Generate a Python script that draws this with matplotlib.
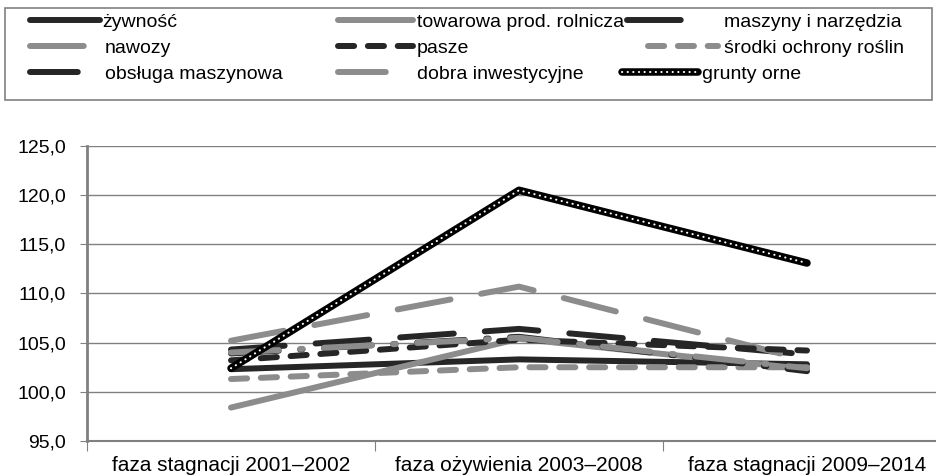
import matplotlib
matplotlib.use("Agg")
import matplotlib.pyplot as plt
from matplotlib.ticker import FuncFormatter, FixedLocator
from matplotlib.legend_handler import HandlerTuple
from matplotlib.patches import Rectangle

plt.rcParams['font.family'] = ['Liberation Sans', 'DejaVu Sans']

# dane
fazy = ['faza stagnacji 2001–2002', 'faza ożywienia 2003–2008', 'faza stagnacji 2009–2014']
zywnosc = [102.3, 103.3, 102.8]
towarowa = [98.4, 105.4, 102.3]
maszyny = [104.3, 106.4, 103.8]
nawozy = [105.2, 110.7, 103.2]
pasze = [103.2, 105.3, 104.2]
srodki = [101.3, 102.5, 102.5]
obsluga = [103.9, 105.6, 102.1]
dobra = [104.0, 105.5, 102.4]
grunty = [102.4, 120.5, 113.1]

ciemny = '#262626'
szary = '#8c8c8c'
lw = 4.3
dlugie = (9, 5.2)
krotkie = (2.7, 2.3)
kreska_kropka = (8, 3.6, 0.4, 3.6)

fig = plt.figure(figsize=(9.37, 4.76), dpi=100)
ax = fig.add_axes([87 / 937, 35 / 476, 864 / 937, 295 / 476])

x = range(len(fazy))
kw = dict(lw=lw, solid_capstyle='round', dash_capstyle='round')

h = {}
h['żywność'], = ax.plot(x, zywnosc, color=ciemny, **kw)
h['towarowa prod. rolnicza'], = ax.plot(x, towarowa, color=szary, **kw)
h['maszyny i narzędzia'], = ax.plot(x, maszyny, color=ciemny, dashes=dlugie, **kw)
h['nawozy'], = ax.plot(x, nawozy, color=szary, dashes=dlugie, **kw)
h['pasze'], = ax.plot(x, pasze, color=ciemny, dashes=krotkie, **kw)
h['środki ochrony roślin'], = ax.plot(x, srodki, color=szary, dashes=krotkie, **kw)
h['obsługa maszynowa'], = ax.plot(x, obsluga, color=ciemny, dashes=kreska_kropka, **kw)
h['dobra inwestycyjne'], = ax.plot(x, dobra, color=szary, dashes=kreska_kropka, **kw)
g1, = ax.plot(x, grunty, color='black', lw=5.4, solid_capstyle='round', zorder=5)
g2, = ax.plot(x, grunty, color='white', lw=1.5, dashes=(0.1, 2.6), dash_capstyle='round', zorder=6)
h['grunty orne'] = (g1, g2)

ax.set_xlim(-0.5, 2.5)
ax.set_ylim(95, 125)
ax.set_yticks([95, 100, 105, 110, 115, 120, 125])
ax.yaxis.set_major_formatter(FuncFormatter(lambda v, p: f'{v:.1f}'.replace('.', ',')))
ax.grid(axis='y', color='#808080', lw=1)
ax.set_axisbelow(True)

ax.xaxis.set_major_locator(FixedLocator([-0.5, 0.5, 1.5]))
ax.set_xticklabels([])
ax.set_xticks(list(x), minor=True)
ax.set_xticklabels(fazy, minor=True, fontsize=15)
ax.tick_params(axis='x', which='minor', length=0, pad=11)
ax.tick_params(axis='x', which='major', length=7, color='#808080')
ax.tick_params(axis='y', length=5, color='#808080', labelsize=14, pad=10)

for s in ['top', 'right']:
    ax.spines[s].set_visible(False)
ax.spines['left'].set_color('#808080')
ax.spines['left'].set_linewidth(2)
ax.spines['bottom'].set_color('#808080')
ax.spines['bottom'].set_linewidth(1.5)

# legenda: kazdy wpis osobno (poczatek symbolu, dlugosc symbolu, poczatek tekstu, wiersz) w pikselach
fs = 14
em = fs * 100 / 72
uklad = {
    'żywność': (30, 70, 102, 22),
    'towarowa prod. rolnicza': (338, 75, 417, 22),
    'maszyny i narzędzia': (627, 66, 724, 22),
    'nawozy': (30, 62, 105, 48),
    'pasze': (338, 75, 417, 48),
    'środki ochrony roślin': (648, 70, 724, 48),
    'obsługa maszynowa': (30, 62, 105, 74),
    'dobra inwestycyjne': (338, 62, 417, 74),
    'grunty orne': (622, 76, 702, 74),
}
for nazwa, (x0, hl, xt, yc) in uklad.items():
    fig.legend([h[nazwa]], [nazwa], loc='center left',
               bbox_to_anchor=(x0 / 937, 1 - yc / 476), frameon=False,
               fontsize=fs, handlelength=hl / em, handletextpad=(xt - x0 - hl) / em,
               borderpad=0, borderaxespad=0,
               handler_map={tuple: HandlerTuple(ndivide=1)})
fig.patches.append(Rectangle((5 / 937, 1 - 100 / 476), 927 / 937, 92 / 476,
                             transform=fig.transFigure, fill=False,
                             ec='#808080', lw=1.2))

fig.savefig('out.png', dpi=100)
